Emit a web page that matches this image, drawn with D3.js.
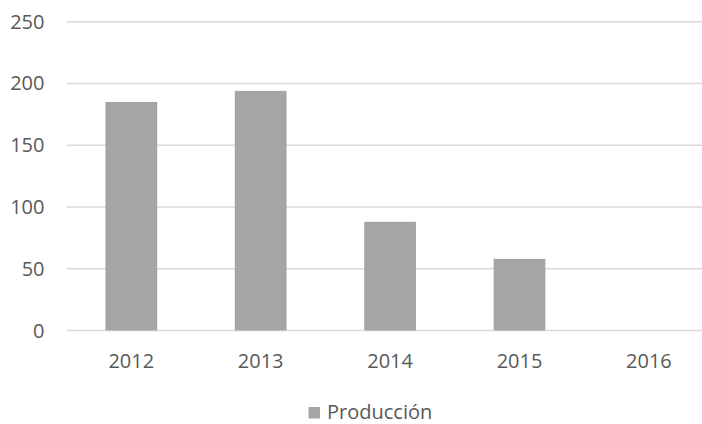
<!DOCTYPE html>
<html><head><meta charset="utf-8">
<script src="https://cdn.jsdelivr.net/npm/d3@7"></script>
<style>body{margin:0;background:#fff;} svg{display:block;}</style>
</head><body>
<svg id="chart" width="702" height="424"></svg>
<script>
const categories = ["2012","2013","2014","2015","2016"];
const produccion = [185, 194, 88, 58, 0];
const yTicks = [0, 50, 100, 150, 200, 250];
const seriesName = "Producción";

const svg = d3.select("#chart");
const font = "'Open Sans', sans-serif";
const textColor = "#595959";
const x = d3.scaleBand().domain(categories).range([66.6, 713.6]).paddingInner(0.6).paddingOuter(0.3);
const y = d3.scaleLinear().domain([0, 250]).range([330.5, 21.7]);

// gridlines
svg.append("g").selectAll("line").data(yTicks).join("line")
  .attr("x1", 66.6).attr("x2", 713.6)
  .attr("y1", d => y(d)).attr("y2", d => y(d))
  .attr("stroke", "#d9d9d9").attr("stroke-width", 1.5);

// y labels
svg.append("g").selectAll("text").data(yTicks).join("text")
  .attr("x", 44.5).attr("y", d => y(d)).attr("dy", "0.35em")
  .attr("text-anchor", "end").attr("font-family", font).attr("font-size", 20)
  .attr("fill", textColor).text(d => d);

// bars
svg.append("g").selectAll("rect").data(categories.map((c,i)=>({c, v: produccion[i]}))).join("rect")
  .attr("x", d => x(d.c)).attr("width", x.bandwidth())
  .attr("y", d => y(d.v)).attr("height", d => y(0) - y(d.v))
  .attr("fill", "#a5a5a5");

// x labels
svg.append("g").selectAll("text").data(categories).join("text")
  .attr("x", d => x(d) + x.bandwidth()/2).attr("y", 368)
  .attr("text-anchor", "middle").attr("font-family", font).attr("font-size", 20)
  .attr("fill", textColor).text(d => d);

// legend
const lg = svg.append("g");
lg.append("rect").attr("x", 308.5).attr("y", 407).attr("width", 11.5).attr("height", 11.5).attr("fill", "#a5a5a5");
lg.append("text").attr("x", 327).attr("y", 418.5).attr("font-family", font).attr("font-size", 20)
  .attr("fill", textColor).text(seriesName);
</script>
</body></html>
